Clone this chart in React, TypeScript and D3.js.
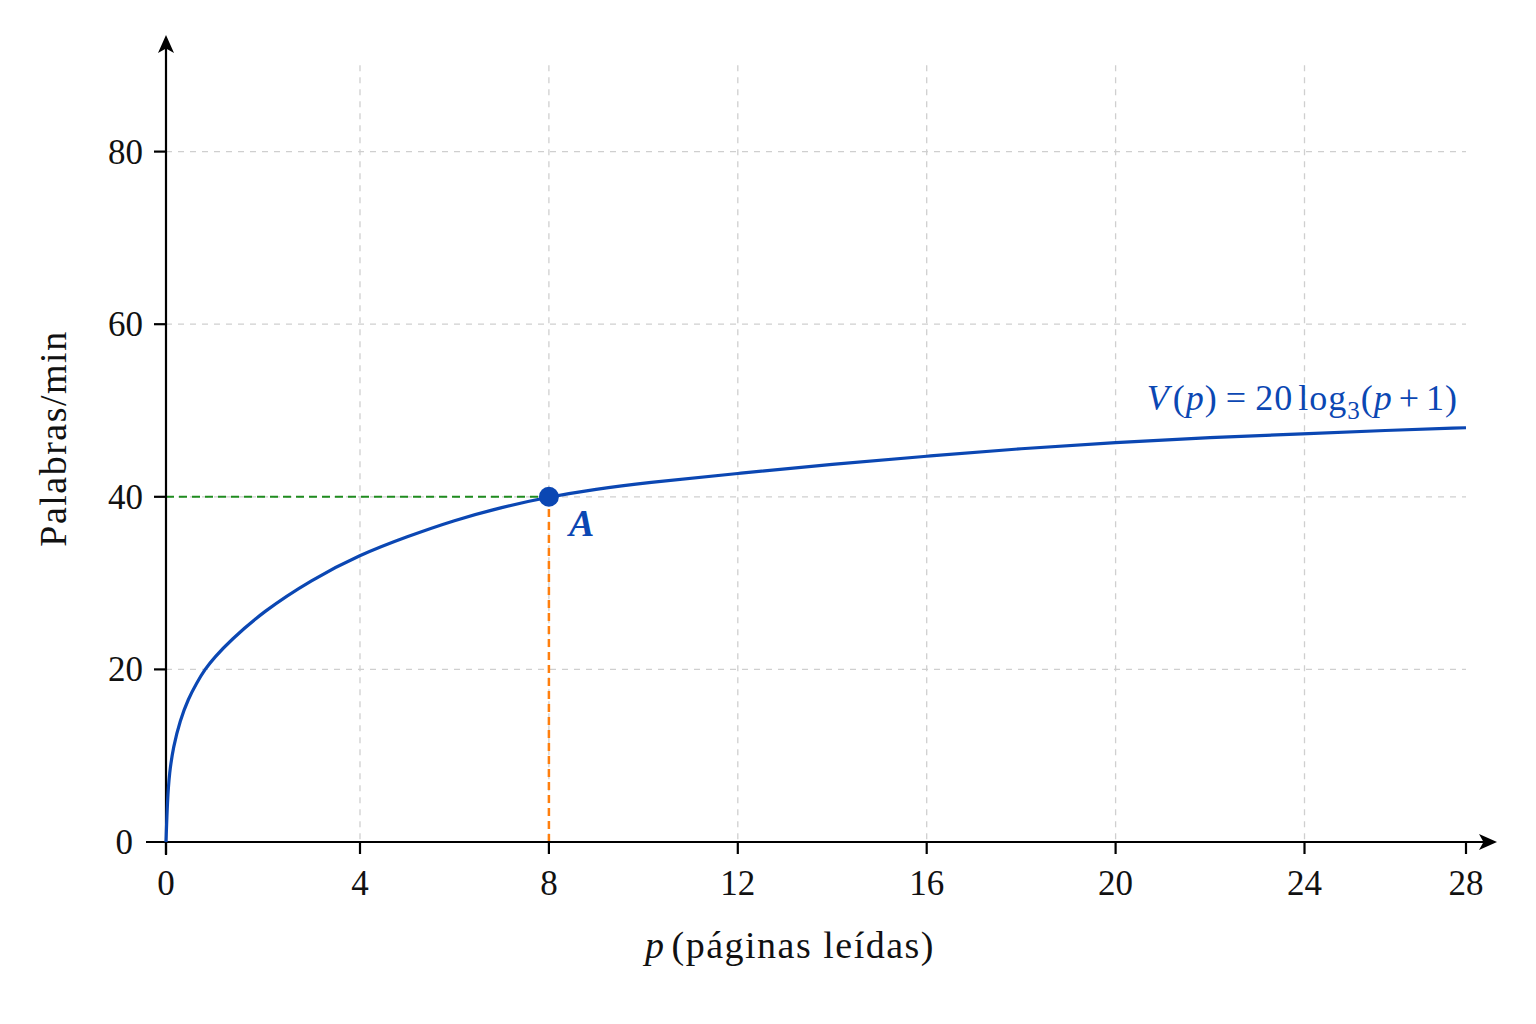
import React from "react";
import * as d3 from "d3";

// values
const pagesRead = [0, 0.03, 0.07, 0.15, 0.29, 0.46, 0.63, 0.8, 1, 1.32, 2, 3, 4, 5, 6, 7, 8, 9, 10, 12, 14, 16, 18, 20, 22, 24, 26, 28];
const wordsPerMin = [0, 4.9, 8.0, 11.0, 14.1, 16.6, 18.4, 20, 21.4, 23.3, 26.7, 30.4, 33.3, 35.4, 37.3, 38.8, 40, 40.9, 41.6, 42.7, 43.8, 44.7, 45.6, 46.3, 46.9, 47.3, 47.7, 48.0];
const xTicks = [0, 4, 8, 12, 16, 20, 24, 28];
const yTicks = [0, 20, 40, 60, 80];
const pointA = { p: 8, v: 40, label: "A" };

const W = 1536;
const H = 1024;
const FONT = "'Liberation Serif', 'DejaVu Serif', serif";
const BLUE = "#0b47b3";

// the reference axis is slightly uneven at both ends, so use a piecewise scale
const x = d3.scaleLinear().domain([0, 4, 24, 28]).range([166, 360, 1304.5, 1466]);
const y = d3.scaleLinear().domain([0, 80]).range([842, 151.6]);
const yGridTop = 90;
const yAxisTop = 93.5;

const curve = pagesRead.map((p, i) => ({ p, v: wordsPerMin[i] }));

const arrow = (px: number, py: number, angle: number) => (
  <path
    d="M0,0 L-8,18 L0,13.5 L8,18 Z"
    fill="#000"
    transform={`translate(${px},${py}) rotate(${angle})`}
  />
);

const App = () => {
  // B-spline smooths out the small reading errors in the points
  const line = d3
    .line<{ p: number; v: number }>()
    .x((d) => x(d.p))
    .y((d) => y(d.v))
    .curve(d3.curveBasis);

  const x0 = x(0);
  const y0 = y(0);
  const xEnd = x(28);
  const last = curve[curve.length - 1];

  return (
    <div style={{ position: "absolute", left: 0, top: 0 }}>
      <svg width={W} height={H} style={{ display: "block", background: "#fff" }} fontFamily={FONT}>
        {/* grid */}
        <g stroke="#cfcfcf" strokeWidth={1.3} strokeDasharray="6,6">
          {xTicks
            .filter((t) => t > 0 && t < 28)
            .map((t) => (
              <line key={"gx" + t} x1={x(t)} x2={x(t)} y1={y(yGridTop)} y2={y0} />
            ))}
          {yTicks
            .filter((t) => t > 0)
            .map((t) => (
              <line key={"gy" + t} x1={x0} x2={xEnd} y1={y(t)} y2={y(t)} />
            ))}
        </g>

        {/* guide lines to point A */}
        <line
          x1={x0}
          x2={x(pointA.p)}
          y1={y(pointA.v)}
          y2={y(pointA.v)}
          stroke="#1f8c1f"
          strokeWidth={2}
          strokeDasharray="8,5"
        />
        <line
          x1={x(pointA.p)}
          x2={x(pointA.p)}
          y1={y0}
          y2={y(pointA.v)}
          stroke="#ff7f0e"
          strokeWidth={2.5}
          strokeDasharray="8,5"
        />

        {/* axes */}
        <g stroke="#000" strokeWidth={2.2}>
          <line x1={x0 - 20} x2={xEnd + 28} y1={y0} y2={y0} />
          <line x1={x0} x2={x0} y1={y0 + 13} y2={y(yAxisTop) + 4} />
          {xTicks.map((t) => (
            <line key={"xt" + t} x1={x(t)} x2={x(t)} y1={y0} y2={y0 + 12} />
          ))}
          {yTicks
            .filter((t) => t > 0)
            .map((t) => (
              <line key={"yt" + t} x1={x0 - 12} x2={x0} y1={y(t)} y2={y(t)} />
            ))}
        </g>
        {arrow(xEnd + 31, y0, 90)}
        {arrow(x0, y(yAxisTop), 0)}

        {/* tick labels */}
        <g fontSize={35} fill="#111">
          {xTicks.map((t) => (
            <text key={"xl" + t} x={x(t)} y={y0 + 53} textAnchor="middle">
              {t}
            </text>
          ))}
          {yTicks.map((t) => (
            <text
              key={"yl" + t}
              x={t === 0 ? x0 - 33 : x0 - 23}
              y={y(t)}
              dy="0.34em"
              textAnchor="end"
            >
              {t}
            </text>
          ))}
        </g>

        {/* curve */}
        <path d={line(curve) || ""} fill="none" stroke={BLUE} strokeWidth={3.2} />
        <circle cx={x(pointA.p)} cy={y(pointA.v)} r={10} fill={BLUE} />
        <text
          x={x(pointA.p) + 20}
          y={y(pointA.v) + 39}
          fontSize={38}
          fontStyle="italic"
          fontWeight="bold"
          fill={BLUE}
        >
          {pointA.label}
        </text>

        {/* formula label */}
        <text
          x={x(last.p) - 8}
          y={y(last.v) - 18}
          textAnchor="end"
          fontSize={36}
          letterSpacing={1}
          fill={BLUE}
        >
          <tspan fontStyle="italic">V</tspan>
          <tspan dx={3}>(</tspan>
          <tspan fontStyle="italic">p</tspan>
          <tspan>)</tspan>
          <tspan dx={8}>=</tspan>
          <tspan dx={8}>20</tspan>
          <tspan dx={5}>log</tspan>
          <tspan fontSize={25} dy={9}>3</tspan>
          <tspan dy={-9}>(</tspan>
          <tspan fontStyle="italic">p</tspan>
          <tspan dx={6}>+</tspan>
          <tspan dx={6}>1)</tspan>
        </text>

        {/* axis titles */}
        <text x={790} y={958} textAnchor="middle" fontSize={38} letterSpacing={1.5} fill="#111">
          <tspan fontStyle="italic">p</tspan>
          <tspan dx={6}>(páginas leídas)</tspan>
        </text>
        <text
          transform={`translate(66,${(y0 + y(yAxisTop)) / 2}) rotate(-90)`}
          textAnchor="middle"
          fontSize={38}
          letterSpacing={1.5}
          fill="#111"
        >
          Palabras/min
        </text>
      </svg>
    </div>
  );
};

export default App;
